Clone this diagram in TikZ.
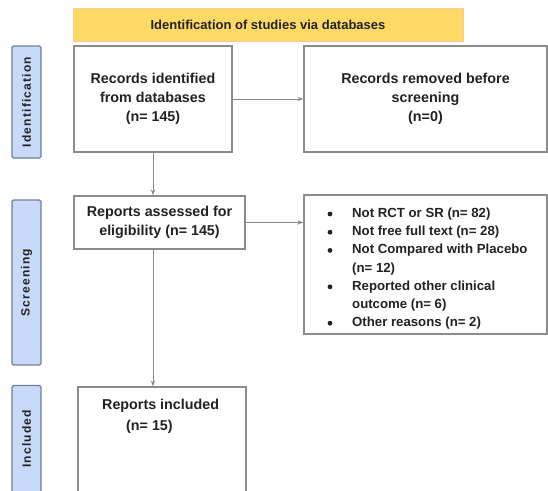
\documentclass[tikz,border=0pt]{standalone}
\usepackage{fontspec}
\setmainfont{Liberation Sans}
\usetikzlibrary{arrows.meta}
\definecolor{boxgray}{HTML}{8C8C8C}
\definecolor{banner}{HTML}{FFD966}
\definecolor{bannerline}{HTML}{F9CB9C}
\definecolor{sidefill}{HTML}{C9DAF8}
\definecolor{sideline}{HTML}{6F7F99}
\definecolor{txt}{HTML}{222222}
\begin{document}
\begin{tikzpicture}[x=1pt,y=-1pt,
  flowbox/.style={draw=boxgray,line width=1.3pt,fill=white,inner sep=0pt,text=txt,font=\bfseries\fontsize{14.3}{19}\selectfont,align=center},
  sidebox/.style={draw=sideline,line width=1.3pt,fill=sidefill,rounded corners=1.5pt,inner sep=0pt,minimum width=29pt},
  sidetext/.style={rotate=90,text=txt,font=\bfseries\fontsize{12}{14}\selectfont\addfontfeatures{LetterSpace=10}},
  listtext/.style={anchor=west,inner sep=0pt,text=txt,font=\bfseries\fontsize{13.2}{18}\selectfont},
  bul/.style={circle,fill=txt,inner sep=0pt,minimum size=4.8pt},
  arr/.style={draw=boxgray,line width=1pt,-{Stealth[length=6pt,width=4.5pt]}}]
\useasboundingbox (0,0) rectangle (548,490);
% banner
\node[draw=bannerline,fill=banner,line width=1pt,minimum width=390pt,minimum height=33pt,inner sep=0pt,text=txt,font=\bfseries\fontsize{13}{15}\selectfont] (ban) at (268,24.5) {Identification of studies via databases};
% side labels
\node[sidebox,minimum height=112pt] (sid) at (26.5,102) {};
\node[sidetext] (sidt) at (sid.center) {Identification};
\node[sidebox,minimum height=165pt] (sscr) at (26.5,282.5) {};
\node[sidetext] (sscrt) at (sscr.center) {Screening};
\node[sidebox,minimum height=115pt] (sinc) at (26.5,443) {};
\node[sidetext] (sinct) at (26.5,439) {Included};
% boxes
\node[flowbox,minimum width=158pt,minimum height=106pt] (rid) at (153,99) {Records identified\\from databases\\(n= 145)};
\node[flowbox,minimum width=243pt,minimum height=106pt] (rrm) at (425.5,99) {Records removed before\\screening\\(n=0)};
\node[flowbox,minimum width=171pt,minimum height=53pt] (ra) at (159.5,222.5) {Reports assessed for\\eligibility (n= 145)};
\node[flowbox,minimum width=243pt,minimum height=139pt] (ex) at (425.5,264.5) {};
\node[bul] (b1) at (330,214) {};
\node[bul] (b2) at (330,232.2) {};
\node[bul] (b3) at (330,250.4) {};
\node[bul] (b4) at (330,286.8) {};
\node[bul] (b5) at (330,323.2) {};
\node[listtext] (e1) at (352,214) {Not RCT or SR (n= 82)};
\node[listtext] (e2) at (352,232.2) {Not free full text (n= 28)};
\node[listtext] (e3) at (352,250.4) {Not Compared with Placebo};
\node[listtext] (e3b) at (352,268.6) {(n= 12)};
\node[listtext] (e4) at (352,286.8) {Reported other clinical};
\node[listtext] (e4b) at (352,305) {outcome (n= 6)};
\node[listtext] (e5) at (352,323.2) {Other reasons (n= 2)};
\node[flowbox,minimum width=168pt,minimum height=110pt] (inc) at (162,442) {};
\node[anchor=west,inner sep=0pt,text=txt,font=\bfseries\fontsize{14.3}{19}\selectfont] (inct1) at (102,406) {Reports included};
\node[anchor=west,inner sep=0pt,text=txt,font=\bfseries\fontsize{14.3}{19}\selectfont] (inct2) at (126,427) {(n= 15)};
% arrows
\draw[arr] (rid.east) -- (rrm.west);
\draw[arr] (rid.south) -- (rid.south |- ra.north);
\draw[arr] (ra.east) -- (ra.east -| ex.west);
\draw[arr] (ra.south -| rid.south) -- (inc.north -| rid.south);
\end{tikzpicture}
\end{document}
